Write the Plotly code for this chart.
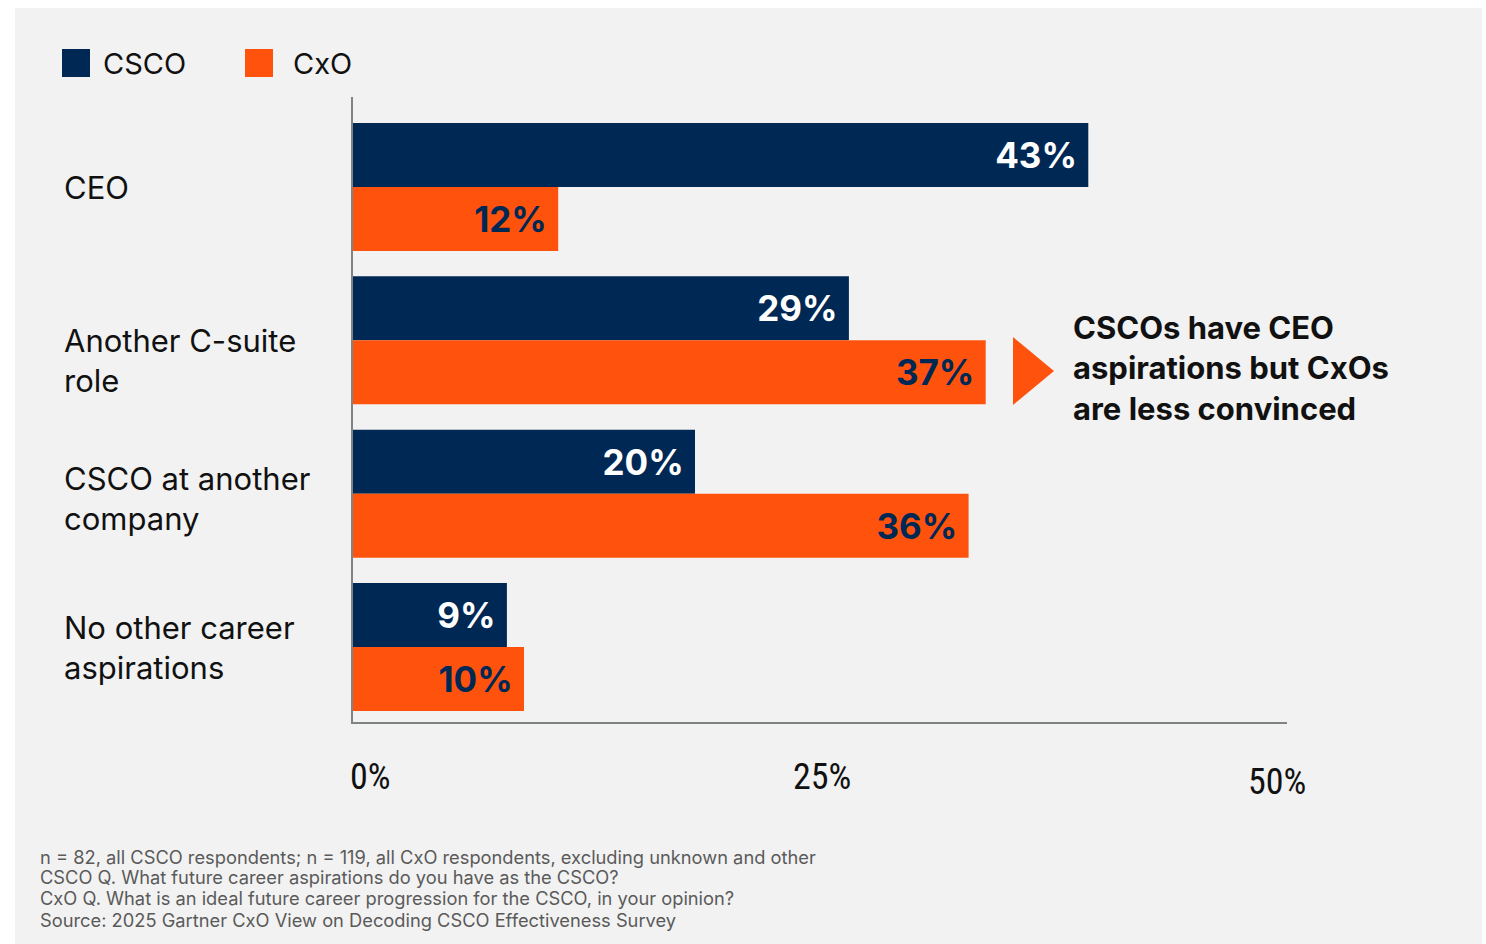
import plotly.graph_objects as go

categories = ["CEO", "Another C-suite<br>role", "CSCO at another<br>company", "No other career<br>aspirations"]
csco_values = [43, 29, 20, 9]
cxo_values = [12, 37, 36, 10]
series_names = ["CSCO", "CxO"]
tick_labels = ["0%", "25%", "50%"]
footnotes = [
    "n = 82, all CSCO respondents; n = 119, all CxO respondents, excluding unknown and other",
    "CSCO Q. What future career aspirations do you have as the CSCO?",
    "CxO Q. What is an ideal future career progression for the CSCO, in your opinion?",
    "Source: 2025 Gartner CxO View on Decoding CSCO Effectiveness Survey",
]
callout = "CSCOs have CEO<br>aspirations but CxOs<br>are less convinced"

NAVY = "#002855"
ORANGE = "#FF530D"
PANEL = "#F2F2F2"
AXIS = "#7F8383"
MAIN_FONT = "Inter, Roboto, sans-serif"
NARROW_FONT = "Liberation Sans Narrow, Arial Narrow, Roboto Condensed, sans-serif"

W, H = 1486, 944
L, R, T, B = 353, 1287, 97, 722  # plot area in px


def px(xp):
    return (xp - L) / (R - L)


def py(yp):
    return (B - yp) / (B - T)


fig = go.Figure()
fig.add_trace(go.Bar(
    y=categories, x=csco_values, name=series_names[0], orientation="h",
    marker=dict(color=NAVY, line=dict(width=0)),
    texttemplate="%{x}%\u00a0", textposition="inside", insidetextanchor="end",
    textfont=dict(family=MAIN_FONT, size=35, color="white", weight=700),
    showlegend=False, cliponaxis=False,
))
fig.add_trace(go.Bar(
    y=categories, x=cxo_values, name=series_names[1], orientation="h",
    marker=dict(color=ORANGE, line=dict(width=0)),
    texttemplate="%{x}%\u00a0", textposition="inside", insidetextanchor="end",
    textfont=dict(family=MAIN_FONT, size=35, color=NAVY, weight=700),
    showlegend=False, cliponaxis=False,
))

shapes = [
    dict(type="rect", xref="paper", yref="paper", layer="below",
         x0=px(15), x1=px(1482), y0=py(8), y1=py(950),
         fillcolor=PANEL, line=dict(width=0)),
    # callout triangle
    dict(type="path", xref="paper", yref="paper",
         path=f"M {px(1013)},{py(337)} L {px(1013)},{py(405)} L {px(1054)},{py(371)} Z",
         fillcolor=ORANGE, line=dict(width=0)),
]

annotations = []
# legend
leg_x = [62, 245]
leg_txt_x = [101, 291]
for name, color, x0, tx in zip(series_names, [NAVY, ORANGE], leg_x, leg_txt_x):
    shapes.append(dict(type="rect", xref="paper", yref="paper",
                       x0=px(x0), x1=px(x0 + 28), y0=py(49), y1=py(77),
                       fillcolor=color, line=dict(width=0)))
    annotations.append(dict(text=name, xref="paper", yref="paper", x=px(tx), y=py(63),
                            xanchor="left", yanchor="middle", showarrow=False,
                            font=dict(family=MAIN_FONT, size=29, color="#111111")))

# category labels (left aligned)
label_shift = [0, -20, -5, 0]
for cat, ys in zip(categories, label_shift):
    annotations.append(dict(text=cat, xref="paper", yref="y", x=px(62), y=cat, yshift=ys,
                            xanchor="left", yanchor="middle", align="left", showarrow=False,
                            font=dict(family=MAIN_FONT, size=31, color="#111111")))

# x tick labels
tick_pos = [(370, 777), (822, 777), (1277, 782)]
for t, (tx, ty) in zip(tick_labels, tick_pos):
    annotations.append(dict(text=t, xref="paper", yref="paper", x=px(tx), y=py(ty),
                            xanchor="center", yanchor="middle", showarrow=False,
                            font=dict(family=NARROW_FONT, size=36, color="#111111")))

# callout text
annotations.append(dict(text="<b>" + callout + "</b>", xref="paper", yref="paper",
                        x=px(1071), y=py(368), xanchor="left", yanchor="middle",
                        align="left", showarrow=False,
                        font=dict(family=MAIN_FONT, size=31, color="#111111")))

# footnotes
foot_y = [857, 877, 898, 920]
for line, fy in zip(footnotes, foot_y):
    annotations.append(dict(text=line, xref="paper", yref="paper", x=px(38), y=py(fy),
                            xanchor="left", yanchor="middle", showarrow=False,
                            font=dict(family="Inter, sans-serif", size=18.3, color="#5A5A5A")))

fig.update_layout(
    width=W, height=H,
    margin=dict(l=L, r=W - R, t=T, b=H - B, pad=0),
    paper_bgcolor="white", plot_bgcolor="rgba(0,0,0,0)",
    barmode="group", bargap=0.165, bargroupgap=0,
    shapes=shapes, annotations=annotations,
    xaxis=dict(range=[0, (R - L) / 17.1], showgrid=False, zeroline=False,
               showticklabels=False, ticks="", showline=True, linecolor=AXIS, linewidth=2),
    yaxis=dict(type="category", categoryarray=categories,
               range=[3.489, -0.587], showgrid=False, zeroline=False,
               showticklabels=False, ticks="", showline=True, linecolor=AXIS, linewidth=2),
    showlegend=False,
)

fig.write_html("out.html")
